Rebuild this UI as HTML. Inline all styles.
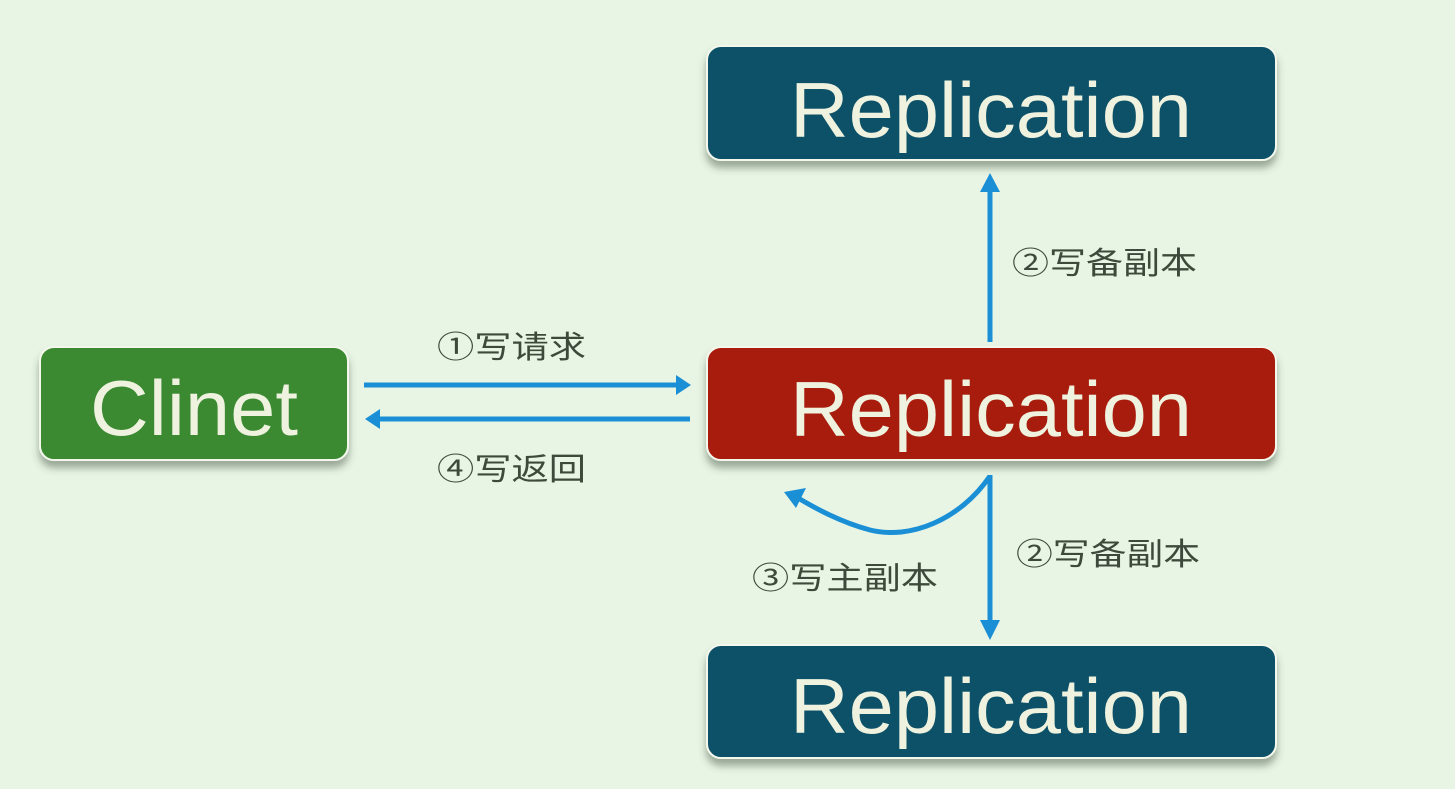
<!DOCTYPE html>
<html><head><meta charset="utf-8"><style>
html,body{margin:0;padding:0;background:#e8f5e4;}
svg{display:block;}
.b{font-family:"Liberation Sans","Noto Sans CJK SC",sans-serif;fill:#eef2df;font-size:78px;}
.l{font-family:"Liberation Sans","Noto Sans CJK SC",sans-serif;fill:#3d4a3b;font-size:31px;}
</style></head><body>
<svg width="1455" height="789" viewBox="0 0 1455 789" xmlns="http://www.w3.org/2000/svg">
<defs>
<filter id="s" x="-10%" y="-20%" width="120%" height="150%"><feDropShadow dx="0" dy="7" stdDeviation="4" flood-color="#3a4a3a" flood-opacity="0.45"/></filter>
<marker id="a" markerWidth="10" markerHeight="10" refX="7" refY="5" orient="auto" markerUnits="userSpaceOnUse" viewBox="0 0 10 10"><path d="M0,0 L10,5 L0,10 z" fill="#1a8fd6"/></marker>
</defs>
<rect width="1455" height="789" fill="#e8f5e4"/>
<g filter="url(#s)">
<rect x="707" y="46" width="569" height="114" rx="14" fill="#0f5168" stroke="#f3f7ec" stroke-width="2"/>
<rect x="707" y="347" width="569" height="113" rx="14" fill="#a81a0a" stroke="#f3f7ec" stroke-width="2"/>
<rect x="707" y="645" width="569" height="113" rx="14" fill="#0f5168" stroke="#f3f7ec" stroke-width="2"/>
<rect x="40" y="347" width="308" height="113" rx="14" fill="#3a8a32" stroke="#f3f7ec" stroke-width="2"/>
</g>
<text class="b" x="790" y="137" textLength="402" lengthAdjust="spacingAndGlyphs">Replication</text>
<text class="b" x="790" y="436" textLength="402" lengthAdjust="spacingAndGlyphs">Replication</text>
<text class="b" x="790" y="733" textLength="402" lengthAdjust="spacingAndGlyphs">Replication</text>
<text class="b" x="90" y="435" textLength="208" lengthAdjust="spacingAndGlyphs">Clinet</text>
<g stroke="#1a8fd6" stroke-width="5" fill="none">
<line x1="364" y1="385" x2="676" y2="385"/>
<path d="M676,375 L691,385 L676,395 z" fill="#1a8fd6" stroke="none"/>
<line x1="690" y1="419" x2="380" y2="419"/>
<path d="M380,409 L365,419 L380,429 z" fill="#1a8fd6" stroke="none"/>
<line x1="990" y1="342" x2="990" y2="190"/>
<path d="M980,192 L990,173 L1000,192 z" fill="#1a8fd6" stroke="none"/>
<line x1="990" y1="475" x2="990" y2="622"/>
<path d="M980,620 L990,640 L1000,620 z" fill="#1a8fd6" stroke="none"/>
<path d="M990,476 C960,520 910,540 870,530 C840,522 815,508 798,498"/>
<path d="M784,492 L806,488 L796,508 z" fill="#1a8fd6" stroke="none"/>
</g>
<text class="l" x="437" y="358" textLength="149" lengthAdjust="spacingAndGlyphs">①写请求</text>
<text class="l" x="437" y="480" textLength="149" lengthAdjust="spacingAndGlyphs">④写返回</text>
<text class="l" x="1012" y="274" textLength="185" lengthAdjust="spacingAndGlyphs">②写备副本</text>
<text class="l" x="1016" y="565" textLength="184" lengthAdjust="spacingAndGlyphs">②写备副本</text>
<text class="l" x="752" y="589" textLength="186" lengthAdjust="spacingAndGlyphs">③写主副本</text>
</svg>
</body></html>
